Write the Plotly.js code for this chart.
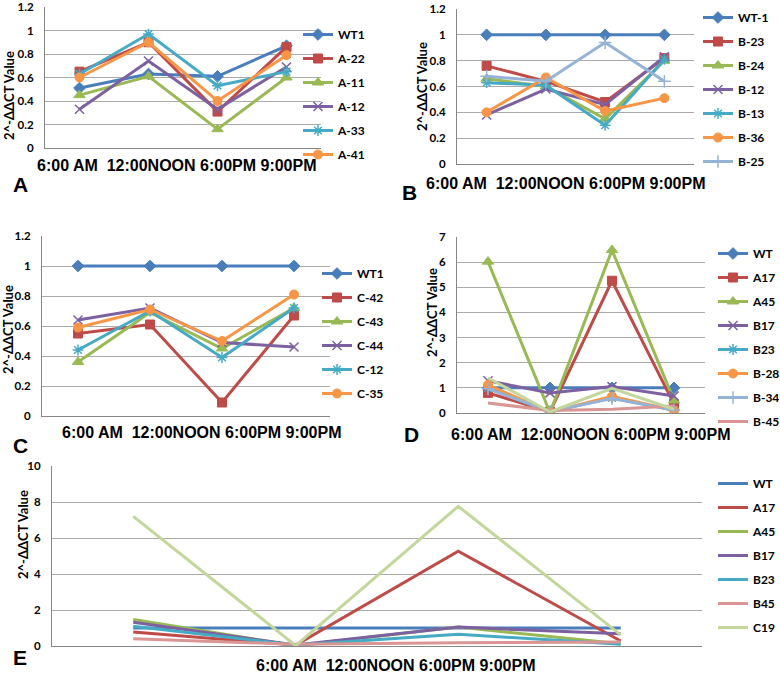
<!DOCTYPE html>
<html>
<head>
<meta charset="utf-8">
<script src="https://cdn.plot.ly/plotly-3.0.1.min.js"></script>
<style>html,body{margin:0;padding:0;background:#fff;}#chart{width:780px;height:674px;}</style>
</head>
<body>
<div id="chart"></div>
<script>
// ---------- DATA ----------
const times = ['6:00 AM', '12:00NOON', '6:00PM', '9:00PM'];
const timeLabel = '6:00 AM  12:00NOON 6:00PM 9:00PM';
const yTitle = '2^-\u0394\u0394CT Value';

// Panel A
const aNames = ['WT1', 'A-22', 'A-11', 'A-12', 'A-33', 'A-41'];
const aWT1 = [0.51, 0.63, 0.61, 0.87];
const aA22 = [0.65, 0.90, 0.31, 0.86];
const aA11 = [0.45, 0.61, 0.16, 0.60];
const aA12 = [0.33, 0.74, 0.33, 0.69];
const aA33 = [0.63, 0.97, 0.53, 0.65];
const aA41 = [0.60, 0.90, 0.40, 0.79];

// Panel B
const bNames = ['WT-1', 'B-23', 'B-24', 'B-12', 'B-13', 'B-36', 'B-25'];
const bWT1 = [1, 1, 1, 1];
const bB23 = [0.76, 0.64, 0.48, 0.82];
const bB24 = [0.66, 0.60, 0.35, 0.80];
const bB12 = [0.38, 0.58, 0.46, 0.83];
const bB13 = [0.63, 0.61, 0.30, 0.81];
const bB36 = [0.40, 0.67, 0.41, 0.51];
const bB25 = [0.68, 0.64, 0.94, 0.64];

// Panel C
const cNames = ['WT1', 'C-42', 'C-43', 'C-44', 'C-12', 'C-35'];
const cWT1 = [1, 1, 1, 1];
const cC42 = [0.55, 0.61, 0.09, 0.67];
const cC43 = [0.36, 0.69, 0.45, 0.72];
const cC44 = [0.64, 0.72, 0.49, 0.46];
const cC12 = [0.44, 0.70, 0.39, 0.72];
const cC35 = [0.59, 0.71, 0.50, 0.81];

// Panel D
const dNames = ['WT', 'A17', 'A45', 'B17', 'B23', 'B-28', 'B-34', 'B-45', 'C19'];
const dWT = [1, 1, 1, 1];
const dA17 = [0.80, 0.05, 5.26, 0.35];
const dA45 = [6.02, 0.02, 6.48, 0.50];
const dB17 = [1.28, 0.80, 1.05, 0.68];
const dB23 = [1.00, 0.05, 0.60, 0.12];
const dB28 = [1.12, 0.03, 0.66, 0.10];
const dB34 = [0.96, 0.06, 0.58, 0.12];
const dB45 = [0.40, 0.10, 0.15, 0.28];
const dC19 = [1.40, 0.04, 0.98, 0.15];

// Panel E
const eNames = ['WT', 'A17', 'A45', 'B17', 'B23', 'B45', 'C19'];
const eWT = [1, 1, 1, 1];
const eA17 = [0.78, 0.05, 5.27, 0.28];
const eA45 = [1.47, 0.02, 1.05, 0.12];
const eB17 = [1.32, 0.05, 1.05, 0.68];
const eB23 = [1.10, 0.05, 0.65, 0.10];
const eB45 = [0.40, 0.10, 0.18, 0.22];
const eC19 = [7.20, 0.02, 7.76, 0.62];

// ---------- STYLE ----------
const C = {
  blue: '#4A7EBB', red: '#BE4B48', green: '#98B954', purple: '#7D60A0',
  cyan: '#46AAC5', orange: '#F79646', lblue: '#95B3D7', pink: '#D99694', lgreen: '#C3D69B'
};
const W = 780, H = 674;
const px = v => v / W;
const py = v => 1 - v / H;
const calibri = 'Lato, "Liberation Sans", Arial, sans-serif';
const arial = '"Liberation Sans", Arial, sans-serif';

const traces = [];
function add(ax, legendId, name, y, color, symbol, opts) {
  opts = opts || {};
  const t = {
    type: 'scatter', mode: symbol ? 'lines+markers' : 'lines',
    x: times, y: y, name: name,
    xaxis: 'x' + (ax === 1 ? '' : ax), yaxis: 'y' + (ax === 1 ? '' : ax),
    legend: legendId, legendgroup: legendId + name,
    line: { color: color, width: opts.lw || 3 },
    showlegend: opts.showlegend !== false,
    hoverinfo: 'name+y'
  };
  if (symbol) {
    const thin = symbol.indexOf('open') >= 0;
    t.marker = { symbol: symbol, size: opts.ms || 9, color: color,
      line: { color: color, width: thin ? 1.5 : 1 } };
  }
  traces.push(t);
}

// A
add(1, 'legend', aNames[0], aWT1, C.blue, 'diamond');
add(1, 'legend', aNames[1], aA22, C.red, 'square');
add(1, 'legend', aNames[2], aA11, C.green, 'triangle-up', { ms: 10 });
add(1, 'legend', aNames[3], aA12, C.purple, 'x-thin-open');
add(1, 'legend', aNames[4], aA33, C.cyan, 'asterisk-open');
add(1, 'legend', aNames[5], aA41, C.orange, 'circle');
// B
add(2, 'legend2', bNames[0], bWT1, C.blue, 'diamond');
add(2, 'legend2', bNames[1], bB23, C.red, 'square');
add(2, 'legend2', bNames[2], bB24, C.green, 'triangle-up', { ms: 10 });
add(2, 'legend2', bNames[3], bB12, C.purple, 'x-thin-open');
add(2, 'legend2', bNames[4], bB13, C.cyan, 'asterisk-open');
add(2, 'legend2', bNames[5], bB36, C.orange, 'circle');
add(2, 'legend2', bNames[6], bB25, C.lblue, 'cross-thin-open');
// C
add(3, 'legend3', cNames[0], cWT1, C.blue, 'diamond');
add(3, 'legend3', cNames[1], cC42, C.red, 'square');
add(3, 'legend3', cNames[2], cC43, C.green, 'triangle-up', { ms: 10 });
add(3, 'legend3', cNames[3], cC44, C.purple, 'x-thin-open');
add(3, 'legend3', cNames[4], cC12, C.cyan, 'asterisk-open');
add(3, 'legend3', cNames[5], cC35, C.orange, 'circle');
// D
add(4, 'legend4', dNames[0], dWT, C.blue, 'diamond');
add(4, 'legend4', dNames[1], dA17, C.red, 'square');
add(4, 'legend4', dNames[2], dA45, C.green, 'triangle-up', { ms: 10 });
add(4, 'legend4', dNames[3], dB17, C.purple, 'x-thin-open');
add(4, 'legend4', dNames[4], dB23, C.cyan, 'asterisk-open');
add(4, 'legend4', dNames[5], dB28, C.orange, 'circle');
add(4, 'legend4', dNames[6], dB34, C.lblue, 'cross-thin-open');
add(4, 'legend4', dNames[7], dB45, C.pink, null);
add(4, 'legend4', dNames[8], dC19, C.lgreen, null, { showlegend: false });
// E
add(5, 'legend5', eNames[0], eWT, C.blue, null);
add(5, 'legend5', eNames[1], eA17, C.red, null);
add(5, 'legend5', eNames[2], eA45, C.green, null);
add(5, 'legend5', eNames[3], eB17, C.purple, null);
add(5, 'legend5', eNames[4], eB23, C.cyan, null);
add(5, 'legend5', eNames[5], eB45, C.pink, null);
add(5, 'legend5', eNames[6], eC19, C.lgreen, null);

// ---------- LAYOUT ----------
function xax(x0, x1, anchor) {
  return { domain: [px(x0), px(x1)], anchor: anchor, type: 'category',
    range: [-0.5, 3.5], showticklabels: false, ticks: '', showgrid: false,
    showline: true, linecolor: '#868686', linewidth: 1, zeroline: false, fixedrange: true };
}
function yax(y0, y1, anchor, max, dtick) {
  return { domain: [py(y1), py(y0)], anchor: anchor, range: [0, max], dtick: dtick,
    tick0: 0, showline: true, linecolor: '#868686', linewidth: 1,
    gridcolor: '#ABABAB', gridwidth: 1, zeroline: false, ticks: '',
    ticklabelstandoff: 8, ticklabeloverflow: 'allow', fixedrange: true,
    tickfont: { family: calibri, size: 11.5, color: '#000', weight: 'bold' } };
}
function leg(x, yTop) {
  return { x: px(x), y: py(yTop), xanchor: 'left', yanchor: 'top',
    bgcolor: 'rgba(0,0,0,0)', borderwidth: 0, traceorder: 'grouped', tracegroupgap: 5,
    itemwidth: 30, font: { family: calibri, size: 12, color: '#000', weight: 'bold' } };
}
function ann(text, x, y, opts) {
  opts = opts || {};
  return Object.assign({ text: text, xref: 'paper', yref: 'paper', x: px(x), y: py(y),
    xanchor: 'center', yanchor: 'middle', showarrow: false,
    font: { family: opts.family || arial, size: opts.size || 16, color: '#000', weight: 'bold' } },
    opts.angle ? { textangle: opts.angle } : {});
}

const layout = {
  width: W, height: H, margin: { l: 0, r: 0, t: 0, b: 0, autoexpand: false },
  paper_bgcolor: '#fff', plot_bgcolor: '#fff', showlegend: true,
  xaxis: xax(45, 321, 'y'), yaxis: yax(7, 148, 'x', 1.2, 0.2),
  xaxis2: xax(457, 694, 'y2'), yaxis2: yax(9, 164, 'x2', 1.2, 0.2),
  xaxis3: xax(42, 330, 'y3'), yaxis3: yax(236, 416, 'x3', 1.2, 0.2),
  xaxis4: xax(457, 705, 'y4'), yaxis4: yax(237, 413, 'x4', 7, 1),
  xaxis5: xax(52, 702, 'y5'), yaxis5: yax(466, 646, 'x5', 10, 2),
  legend: leg(298, 20),
  legend2: leg(698, 3),
  legend3: leg(317, 259),
  legend4: leg(713, 239),
  legend5: leg(713, 469),
  annotations: [
    ann(timeLabel, 177, 166), ann(timeLabel, 566, 183), ann(timeLabel, 202, 432),
    ann(timeLabel, 591, 434), ann(timeLabel, 396, 665),
    ann('A', 20, 184, { size: 21 }), ann('B', 409, 193, { size: 21 }),
    ann('C', 20, 445, { size: 21 }), ann('D', 411, 434, { size: 21 }),
    ann('E', 20, 657, { size: 21 }),
    ann(yTitle, 9, 96, { family: calibri, size: 13, angle: -90 }),
    ann(yTitle, 422, 87, { family: calibri, size: 13, angle: -90 }),
    ann(yTitle, 8, 330, { family: calibri, size: 13, angle: -90 }),
    ann(yTitle, 432, 313, { family: calibri, size: 13, angle: -90 }),
    ann(yTitle, 23, 535, { family: calibri, size: 13, angle: -90 })
  ]
};

Plotly.newPlot('chart', traces, layout, { staticPlot: true, displayModeBar: false });
</script>
</body>
</html>
